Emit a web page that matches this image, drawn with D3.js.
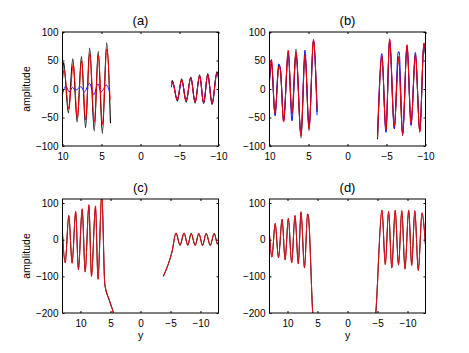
<!DOCTYPE html>
<html>
<head>
<meta charset="utf-8">
<script src="https://cdn.jsdelivr.net/npm/d3@7"></script>
<style>
  body { margin: 0; background: #fff; }
  svg { display: block; }
  text { font-family: "Liberation Sans", Arial, sans-serif; fill: #000; }
</style>
</head>
<body>
<svg id="chart" width="469" height="353"></svg>
<script>
// tick values
const xTicks = [10, 5, 0, -5, -10];
const yTicksTop = [-100, -50, 0, 50, 100];
const yTicksBottom = [-200, -100, 0, 100];

// (a) -- [position, amplitude]
const aBlackL = [[10,25],[9.85,47],[9.25,-42],[8.68,53],[8.12,-58],[7.57,57],[7.04,-68],[6.52,72],[5.93,-74],[5.42,66],[4.89,-78],[4.33,81],[3.85,-60]];
const aRedL = [[10,16],[9.8,33],[9.2,-35],[8.62,43],[8.1,-50],[7.55,49],[7.03,-54],[6.5,62],[5.92,-58],[5.4,59],[4.88,-63],[4.32,70],[3.9,-19]];
const aBlueL = [[10,-9],[9.57,5],[9.14,-5],[8.7,3],[8.36,-3],[8.0,1],[7.62,4],[7.19,-5],[6.54,10],[5.98,-10],[5.46,9],[5.03,-5],[4.38,7],[3.95,-5]];
const aBlackR = [[-3.98,10],[-4.08,15],[-4.73,-21],[-5.28,18],[-5.85,-23],[-6.45,21],[-7.0,-25],[-7.58,25],[-8.1,-26],[-8.62,27],[-9.18,-27],[-9.8,30],[-10,22]];
const aBlueR = [[-3.95,3],[-4.12,11],[-4.7,-18],[-5.28,15],[-5.85,-20],[-6.45,19],[-7.0,-22],[-7.58,22],[-8.1,-24],[-8.62,25],[-9.18,-25],[-9.8,27],[-10,19]];
const aRedR = [[-3.95,5],[-4.1,12],[-4.7,-19],[-5.28,16],[-5.85,-21],[-6.45,20],[-7.0,-23],[-7.58,23],[-8.1,-24],[-8.62,25],[-9.18,-25],[-9.8,28],[-10,20]];

// (b)
const bBlackL = [[10,14],[9.75,45],[9.3,-45],[8.8,42],[8.6,34],[8.19,-56],[7.6,65],[7.12,-45],[6.6,70],[5.96,-86],[5.45,62],[4.93,-73],[4.36,87],[3.9,-40]];
const bBlueL = [[10,15],[9.75,48],[9.28,-47],[8.82,44],[8.6,35],[8.19,-56],[7.6,63],[7.12,-56],[6.6,60],[5.96,-78],[5.45,68],[4.93,-66],[4.36,84],[3.9,-46]];
const bRedL = [[10,18],[9.75,52],[9.3,-43],[8.78,40],[8.6,33],[8.19,-58],[7.6,68],[7.12,-42],[6.6,64],[5.96,-82],[5.45,60],[4.93,-70],[4.36,86],[3.9,-35]];
const bBlackR = [[-3.85,-88],[-4.41,57],[-4.93,-74],[-5.4,88],[-6.0,-68],[-6.55,57],[-7.07,-82],[-7.63,78],[-8.15,-62],[-8.71,60],[-9.27,-76],[-9.8,81],[-10,60]];
const bBlueR = [[-3.85,-80],[-4.4,62],[-4.93,-76],[-5.4,84],[-6.0,-70],[-6.5,65],[-6.62,65],[-7.07,-78],[-7.63,75],[-8.15,-64],[-8.7,64],[-9.27,-73],[-9.8,78],[-10,60]];
const bRedR = [[-3.85,-86],[-4.41,58],[-4.93,-72],[-5.4,87],[-6.0,-66],[-6.55,55],[-7.07,-80],[-7.63,77],[-8.15,-60],[-8.71,60],[-9.27,-75],[-9.8,80],[-10,62]];

// (c)
const cLeft = [[13.1,45],[12.55,-63],[11.95,66],[11.4,-64],[10.8,77],[10.35,-82],[9.72,84],[9.22,-88],[8.6,95],[8.17,-100],[7.5,92],[7.08,-108],[6.45,128],[5.95,-122],[5.2,-165],[4.5,-200],[4.3,-212]];
const cRight = [[-3.8,-100],[-4.6,-68],[-5.25,-33],[-5.92,18],[-6.59,-15],[-7.26,18],[-7.88,-15],[-8.44,17],[-9.11,-15],[-9.72,17],[-10.34,-15],[-10.95,17],[-11.62,-15],[-12.29,17],[-12.85,-12],[-13.1,5]];

// (d)
const dLeft = [[13.1,40],[12.6,-47],[12.05,44],[11.5,-49],[10.9,56],[10.4,-55],[9.86,58],[9.3,-63],[8.75,66],[8.2,-66],[7.75,76],[7.17,-77],[6.65,70],[6.5,62],[5.8,-200],[5.7,-225]];
const dRight = [[-4.62,-220],[-4.72,-200],[-5.75,81],[-6.3,-68],[-6.85,77],[-7.38,-77],[-7.95,80],[-8.5,-69],[-9.05,79],[-9.58,-80],[-10.2,81],[-10.7,-70],[-11.22,79],[-11.8,-84],[-12.42,73],[-13.0,-15]];

const svg = d3.select("#chart");
const BLACK = "#000", RED = "#ff0000", BLUE = "#0000ff";

const panels = [
  { title: "(a)", x0: 62.5, x1: 218.5, y0: 32, y1: 146, xDom: [10, -10], yDom: [-100, 100], yTicks: yTicksTop, ylab: true, xlab: false,
    series: [[aBlackL, BLACK, 1.1], [aBlackR, BLACK, 1.1], [aBlueL, BLUE, 0.9], [aBlueR, BLUE, 0.9], [aRedL, RED, 1], [aRedR, RED, 1]] },
  { title: "(b)", x0: 269.5, x1: 425.5, y0: 32, y1: 146, xDom: [10, -10], yDom: [-100, 100], yTicks: yTicksTop, ylab: false, xlab: false,
    series: [[bBlackL, BLACK, 1.1], [bBlackR, BLACK, 1.1], [bBlueL, BLUE, 0.9], [bBlueR, BLUE, 0.9], [bRedL, RED, 1], [bRedR, RED, 1]] },
  { title: "(c)", x0: 62.5, x1: 218.5, y0: 199, y1: 313, xDom: [13, -13], yDom: [-200, 111], yTicks: yTicksBottom, ylab: true, xlab: true,
    series: [[cLeft, BLACK, 1.05], [cRight, BLACK, 1.05], [cLeft, "#e8141e", 1], [cRight, "#e8141e", 1]] },
  { title: "(d)", x0: 269.5, x1: 425.5, y0: 199, y1: 313, xDom: [13, -13], yDom: [-200, 111], yTicks: yTicksBottom, ylab: false, xlab: true,
    series: [[dLeft, BLACK, 1.05], [dRight, BLACK, 1.05], [dLeft, "#e8141e", 1], [dRight, "#e8141e", 1]] }
];

panels.forEach((p, i) => {
  const x = d3.scaleLinear().domain(p.xDom).range([p.x0, p.x1]);
  const y = d3.scaleLinear().domain(p.yDom).range([p.y1, p.y0]);
  const g = svg.append("g");

  g.append("clipPath").attr("id", "clip" + i)
    .append("rect")
    .attr("x", p.x0).attr("y", p.y0)
    .attr("width", p.x1 - p.x0).attr("height", p.y1 - p.y0);

  const line = d3.line()
    .x(d => x(d[0]))
    .y(d => y(d[1]))
    .curve(d3.curveMonotoneX);

  const plot = g.append("g").attr("clip-path", `url(#clip${i})`);
  p.series.forEach(([data, color, w]) => {
    plot.append("path")
      .attr("d", line(data))
      .attr("fill", "none")
      .attr("stroke", color)
      .attr("stroke-width", w)
      .attr("stroke-linejoin", "round");
  });

  // axes, ticks pointing inward on all four sides
  const bottom = g.append("g").attr("transform", `translate(0,${p.y1})`)
    .call(d3.axisBottom(x).tickValues(xTicks).tickSizeInner(-2).tickSizeOuter(0).tickPadding(6.5));
  const top = g.append("g").attr("transform", `translate(0,${p.y0})`)
    .call(d3.axisTop(x).tickValues(xTicks).tickSizeInner(-2).tickSizeOuter(0).tickFormat(""));
  const left = g.append("g").attr("transform", `translate(${p.x0},0)`)
    .call(d3.axisLeft(y).tickValues(p.yTicks).tickSizeInner(-2).tickSizeOuter(0).tickPadding(4));
  const right = g.append("g").attr("transform", `translate(${p.x1},0)`)
    .call(d3.axisRight(y).tickValues(p.yTicks).tickSizeInner(-2).tickSizeOuter(0).tickFormat(""));

  [bottom, top, left, right].forEach(a => {
    a.select(".domain").remove();
    a.selectAll("text").style("font-size", "10px").style("font-family", "'Liberation Sans', Arial, sans-serif");
    a.selectAll("line").attr("stroke", "#000");
  });

  g.append("rect")
    .attr("x", p.x0).attr("y", p.y0)
    .attr("width", p.x1 - p.x0).attr("height", p.y1 - p.y0)
    .attr("fill", "none").attr("stroke", "#000").attr("stroke-width", 1);

  g.append("text")
    .attr("x", (p.x0 + p.x1) / 2)
    .attr("y", p.y0 - 7.5)
    .attr("text-anchor", "middle")
    .style("font-size", "13px")
    .text(p.title);

  if (p.ylab) {
    g.append("text")
      .attr("transform", `translate(${p.x0 - 33},${(p.y0 + p.y1) / 2}) rotate(-90)`)
      .attr("text-anchor", "middle")
      .style("font-size", "10.5px")
      .text("amplitude");
  }
  if (p.xlab) {
    g.append("text")
      .attr("x", (p.x0 + p.x1) / 2)
      .attr("y", p.y1 + 25.5)
      .attr("text-anchor", "middle")
      .style("font-size", "10.5px")
      .text("y");
  }
});
</script>
</body>
</html>
